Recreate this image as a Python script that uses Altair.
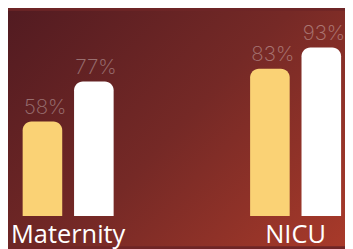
import altair as alt
import pandas as pd

categories = ["Maternity", "Maternity", "NICU", "NICU"]
series = ["A", "B", "A", "B"]
values = [58, 77, 83, 93]
labels = ["58%", "77%", "83%", "93%"]
group_names = ["Maternity", "NICU"]

df = pd.DataFrame({"category": categories, "series": series, "value": values, "label": labels})
cats = pd.DataFrame({"category": group_names})
bg = pd.DataFrame({"k": [0]})

W, H = 345, 241

gradient = alt.LinearGradient(
    gradient="linear",
    stops=[
        alt.GradientStop(color="#521b21", offset=0),
        alt.GradientStop(color="#752926", offset=0.5),
        alt.GradientStop(color="#a83a2a", offset=1),
    ],
    x1=0, y1=0, x2=1.154, y2=0.769,
)

background = alt.Chart(bg).mark_rect(color=gradient).encode(
    x=alt.value(0), x2=alt.value(W), y=alt.value(0), y2=alt.value(H)
)

xscale = alt.Scale(domain=group_names, range=[15, 341], paddingInner=0.6, paddingOuter=0)
xoff = alt.XOffset("series:N", scale=alt.Scale(paddingInner=0.23, paddingOuter=0))
yscale = alt.Scale(domain=[0, 100], range=[239, 22.5])

bars = alt.Chart(df).mark_bar(cornerRadiusTopLeft=9, cornerRadiusTopRight=9).encode(
    x=alt.X("category:N", scale=xscale, axis=None),
    xOffset=xoff,
    y=alt.Y("value:Q", scale=yscale, axis=None),
    y2=alt.datum(13.39),
    color=alt.Color("series:N", scale=alt.Scale(domain=["A", "B"], range=["#FAD275", "#FFFFFF"]), legend=None),
)

vlabels = alt.Chart(df).mark_text(
    align="left", baseline="alphabetic", dx=-19, dy=-8,
    font="Inter", fontSize=21, fontWeight=200, color="#ffffff", opacity=0.35,
).encode(
    x=alt.X("category:N", scale=xscale, axis=None),
    xOffset=xoff,
    y=alt.Y("value:Q", scale=yscale, axis=None),
    text="label:N",
)

clabels = alt.Chart(cats).mark_text(
    align="center", baseline="alphabetic", font="Open Sans", fontSize=26, color="#ffffff",
).encode(
    x=alt.X("category:N", scale=xscale, axis=None),
    y=alt.value(238),
    text="category:N",
)

chart = alt.layer(background, bars, vlabels, clabels).properties(
    width=W, height=H, autosize=alt.AutoSizeParams(type="none"), padding=0,
    background="#6e2526",
).configure_view(strokeWidth=0)

chart.save("out.html", embed_options={"renderer": "svg", "actions": False})
